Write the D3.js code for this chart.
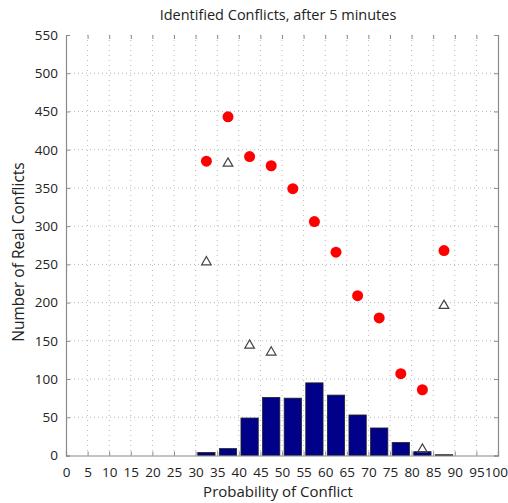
<!DOCTYPE html>
<html>
<head>
<meta charset="utf-8">
<script src="https://d3js.org/d3.v7.min.js"></script>
<style>
  html, body { margin: 0; padding: 0; background: #fff; }
  svg { display: block; }
  text { font-family: "Open Sans", "Noto Sans", sans-serif; fill: #222; }
</style>
</head>
<body>
<svg id="chart" width="508" height="503"></svg>
<script>
// Bin centres of the probability histogram (percent)
const binCenters = [32.5, 37.5, 42.5, 47.5, 52.5, 57.5, 62.5, 67.5, 72.5, 77.5, 82.5, 87.5];
// Number of real conflicts per bin (bars)
const realConflicts = [4, 9, 49, 76, 75, 95, 79, 53, 36, 17, 5, 1];
// Identified conflicts per bin (red dots)
const identified = [385, 443, 391, 379, 349, 306, 266, 209, 180, 107, 86, 268];
// Second identified series (open triangles), only where present
const triX = [32.5, 37.5, 42.5, 47.5, 82.5, 87.5];
const triY = [253, 382, 144, 135, 8, 196];

const xTicks = d3.range(0, 101, 5);
const yTicks = d3.range(0, 551, 50);

const margin = { left: 66, right: 10, top: 35, bottom: 47.5 };
const W = 508, H = 503;
const svg = d3.select("#chart");

const x = d3.scaleLinear().domain([0, 100]).range([margin.left, W - margin.right]);
const y = d3.scaleLinear().domain([0, 550]).range([H - margin.bottom, margin.top]);

// dotted grid
const grid = svg.append("g");
grid.selectAll("line.v").data(xTicks.slice(1, -1)).join("line")
  .attr("x1", d => x(d)).attr("x2", d => x(d))
  .attr("y1", y(550)).attr("y2", y(0))
  .attr("stroke", "#b8b8b8").attr("stroke-width", 1)
  .attr("stroke-dasharray", "1,4");
grid.selectAll("line.h").data(yTicks.slice(1, -1)).join("line")
  .attr("x1", x(0)).attr("x2", x(100))
  .attr("y1", d => y(d)).attr("y2", d => y(d))
  .attr("stroke", "#b8b8b8").attr("stroke-width", 1)
  .attr("stroke-dasharray", "1,3");

// histogram bars
const bw = 0.8 * 5;
svg.append("g").selectAll("rect").data(binCenters).join("rect")
  .attr("x", (d) => x(d - bw / 2))
  .attr("width", x(bw) - x(0))
  .attr("y", (d, i) => y(realConflicts[i]))
  .attr("height", (d, i) => y(0) - y(realConflicts[i]))
  .attr("fill", "#000088")
  .attr("stroke", "#222").attr("stroke-width", 0.8);

// axes
const axisColor = "#8a8a8a";
const xAxis = svg.append("g").attr("transform", `translate(0,${y(0)})`)
  .call(d3.axisBottom(x).tickValues(xTicks).tickSize(-4).tickPadding(12).tickFormat(d3.format("d")));
const yAxis = svg.append("g").attr("transform", `translate(${x(0)},0)`)
  .call(d3.axisLeft(y).tickValues(yTicks).tickSize(-4).tickPadding(8).tickFormat(d3.format("d")));
const yAxisR = svg.append("g").attr("transform", `translate(${x(100)},0)`)
  .call(d3.axisRight(y).tickValues(yTicks).tickSize(-4).tickFormat(""));
const xAxisT = svg.append("g").attr("transform", `translate(0,${y(550)})`)
  .call(d3.axisTop(x).tickValues(xTicks).tickSize(-4).tickFormat(""));
xAxisT.select(".domain").remove();
[xAxis, yAxis, yAxisR, xAxisT].forEach(g => {
  g.selectAll(".domain").attr("stroke", axisColor).attr("stroke-width", 1.2);
  g.selectAll(".tick line").attr("stroke", axisColor);
  g.selectAll(".tick text").attr("font-size", 13.5).style("fill", "#222");
});
// the last x label sits at the window edge; keep it inside
xAxis.selectAll(".tick text").filter(d => d === 100)
  .attr("text-anchor", "end").attr("x", W - 0.5 - x(100));

// red dots
svg.append("g").selectAll("circle").data(binCenters).join("circle")
  .attr("cx", d => x(d))
  .attr("cy", (d, i) => y(identified[i]))
  .attr("r", 5.5)
  .attr("fill", "#ff0000");

// open triangles
const tri = d3.symbol().type(d3.symbolTriangle).size(40);
svg.append("g").selectAll("path").data(triX).join("path")
  .attr("transform", (d, i) => `translate(${x(d)},${y(triY[i])})`)
  .attr("d", tri)
  .attr("fill", "none")
  .attr("stroke", "#444").attr("stroke-width", 1.2);

// titles
svg.append("text").attr("x", 278).attr("y", 20).attr("text-anchor", "middle")
  .attr("font-size", 14.5).text("Identified Conflicts, after 5 minutes");
svg.append("text").attr("x", 278).attr("y", 497).attr("text-anchor", "middle")
  .attr("font-size", 15).text("Probability of Conflict");
svg.append("text").attr("transform", "translate(24,252) rotate(-90)")
  .attr("text-anchor", "middle").attr("font-size", 15.5).text("Number of Real Conflicts");
</script>
</body>
</html>
